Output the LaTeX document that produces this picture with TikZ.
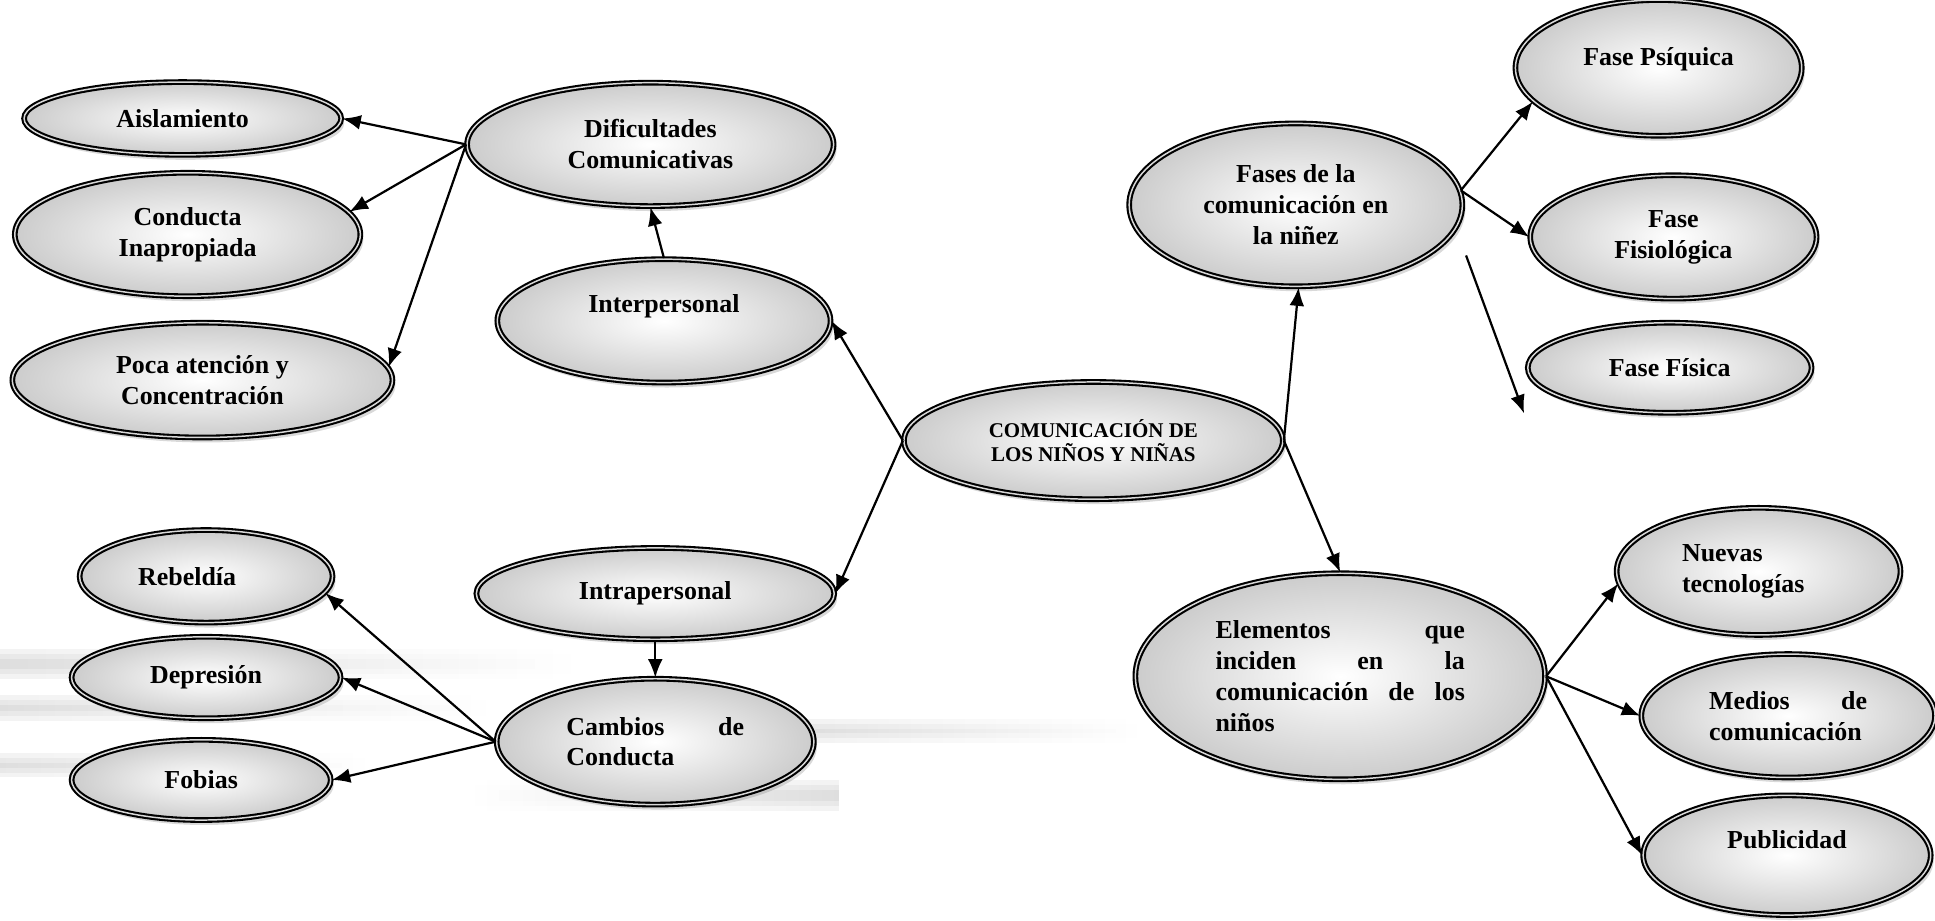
\documentclass[tikz,border=0pt]{standalone}
\usepackage{fontspec}
\setmainfont{Liberation Serif}
\usetikzlibrary{shapes.geometric,arrows.meta,shadows,fadings}

\begin{document}
\begin{tikzpicture}[
	x=0.5pt, y=-0.5pt,
	mynode/.style={ellipse, draw=black, line width=0.85pt, double=gray!30, double distance=0.6pt,
		inner color=white, outer color=gray!40, inner sep=2pt, align=center,
		drop shadow={shadow xshift=1.2pt, shadow yshift=-2pt, opacity=0.3, fill=gray},
		font=\bfseries\fontsize{10.5}{12.5}\selectfont},
	myarrow/.style={-{Latex[length=7.5pt,width=6pt]}, line width=0.9pt},
	streak/.style={fill=gray!80, opacity=0.12, path fading=east}
	]
	\useasboundingbox (0,0) rectangle (1568,746);
	% grey streaks behind the lower left part
	\foreach \d in {0,4,8} {
		\fill[streak] (0,526+\d) rectangle (470,550-\d);
		\fill[streak] (0,563+\d) rectangle (400,584-\d);
		\fill[streak] (655,583+\d) rectangle (925,602-\d);
		\fill[streak] (0,610+\d) rectangle (300,630-\d);
		\fill[streak, path fading=west] (380,632+\d) rectangle (680,657-\d);
	}

	\node[mynode, minimum width=153.5pt, minimum height=47.5pt, font=\bfseries\fontsize{8.5}{9.5}\selectfont] (cen) at (886,357) {COMUNICACIÓN DE\\LOS NIÑOS Y NIÑAS};
	% left side
	\node[mynode, minimum width=135pt, minimum height=50pt, text depth=14pt] (inter) at (538,260) {Interpersonal};
	\node[mynode, minimum width=148.5pt, minimum height=50pt] (dif) at (527,117) {Dificultades\\Comunicativas};
	\node[mynode, minimum width=128.5pt, minimum height=29.5pt] (ais) at (148,96) {Aislamiento};
	\node[mynode, minimum width=140pt, minimum height=50pt] (con) at (152,190) {Conducta\\Inapropiada};
	\node[mynode, minimum width=154pt, minimum height=46.5pt] (poca) at (164,308) {Poca atención y\\Concentración};
	\node[mynode, minimum width=145pt, minimum height=37pt] (intra) at (531,481) {Intrapersonal};
	\node[mynode, minimum width=128.5pt, minimum height=51pt, text width=72pt, align=justify] (cam) at (531,601) {Cambios de\linebreak Conducta};
	\node[mynode, minimum width=102.5pt, minimum height=37.5pt, text width=55pt, align=left] (reb) at (167,467) {Rebeldía};
	\node[mynode, minimum width=109pt, minimum height=33pt] (dep) at (167,549) {Depresión};
	\node[mynode, minimum width=105pt, minimum height=32.5pt] (fob) at (163,632) {Fobias};
	% right side
	\node[mynode, minimum width=135pt, minimum height=66pt] (fas) at (1050,166) {Fases de la\\comunicación en\\la niñez};
	\node[mynode, minimum width=116pt, minimum height=55pt, text depth=9.5pt] (psi) at (1344,55) {Fase Psíquica};
	\node[mynode, minimum width=116pt, minimum height=50pt] (fis) at (1356,192) {Fase\\Fisiológica};
	\node[mynode, minimum width=115pt, minimum height=36.5pt] (fisc) at (1353,298) {Fase Física};
	\node[mynode, minimum width=166pt, minimum height=83.5pt, text width=101pt, align=justify] (ele) at (1086,548) {Elementos que\linebreak inciden en la\linebreak comunicación de los\linebreak niños};
	\node[mynode, minimum width=115pt, minimum height=51.5pt, text width=62pt, align=left] (nue) at (1425,463) {Nuevas\\tecnologías};
	\node[mynode, minimum width=119pt, minimum height=50pt, text width=64pt, align=justify] (med) at (1449,580) {Medios de\linebreak comunicación};
	\node[mynode, minimum width=116.5pt, minimum height=48.5pt, text depth=13pt] (pub) at (1448,693) {Publicidad};

	\coordinate (fa) at (1188,207);
	\coordinate (fb) at (1235,335);

	\path[myarrow]
	(dif.west) edge (ais.east)
	(dif.west) edge (con.8)
	(dif.west) edge (poca.4)
	(inter.north) edge (dif.south)
	(cen.west) edge (inter.east)
	(cen.west) edge (intra.east)
	(intra.south) edge (cam.north)
	(cam.west) edge (reb.-8)
	(cam.west) edge (dep.east)
	(cam.west) edge (fob.east)
	(cen.east) edge (fas.-88)
	(cen.east) edge (ele.north)
	(fas.5) edge (psi.195)
	(fas.5) edge (fis.west)
	(fa) edge (fb)
	(ele.east) edge (nue.185)
	(ele.east) edge (med.west)
	(ele.east) edge (pub.west);
\end{tikzpicture}
\end{document}
